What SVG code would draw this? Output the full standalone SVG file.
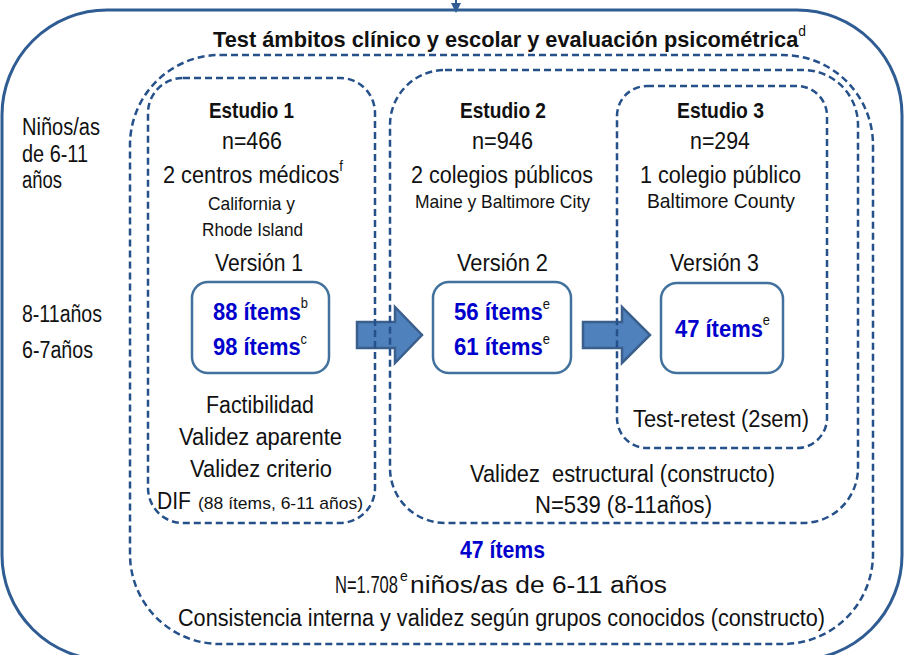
<svg xmlns="http://www.w3.org/2000/svg" width="906" height="655" viewBox="0 0 906 655">
<style>
text{font-family:'Liberation Sans Narrow','Liberation Sans',Arial,sans-serif;fill:#111;font-size:23px}
.b{font-weight:bold;font-size:22px}
.t{font-weight:bold;font-size:22px}
.s{font-size:19px}
.sup{font-size:14px;font-weight:normal;fill:#111}
.blue{fill:#0000CC;font-weight:bold;font-size:24px}
.dash{fill:none;stroke:#25508A;stroke-width:2.5;stroke-dasharray:7 4}
.item{fill:#fff;stroke:#41719C;stroke-width:2.5}
.arr{fill:#4F81BD;stroke:#3A5F8C;stroke-width:2.5;stroke-linejoin:miter}
</style>
<rect width="906" height="655" fill="#fff"/>
<g id="outer">
<rect x="2" y="10" width="900" height="650" rx="105" ry="105" fill="none" stroke="#2F5C92" stroke-width="3"/>
</g>
<g id="connectors">
<path d="M456,0 V10" stroke="#2F5C92" stroke-width="2" fill="none"/>
<path d="M451,3 L461,3 L456,13 Z" fill="#2F5C92"/>
<polygon class="arr" points="357,322 395,322 395,307 422,335 395,363 395,348 357,348"/>
<polygon class="arr" points="583,322 622,322 622,307 650,335 622,363 622,348 583,348"/>
</g>
<g id="all-studies">
<rect class="dash" x="130" y="55" width="743" height="589" rx="90" ry="90"/>
<text class="t" x="213" y="47" textLength="593" lengthAdjust="spacingAndGlyphs">Test ámbitos clínico y escolar y evaluación psicométrica<tspan class="sup" dy="-11">d</tspan></text>
<text class="blue" x="460" y="558" textLength="85" lengthAdjust="spacingAndGlyphs">47 ítems</text>
<text x="335" y="593"><tspan textLength="63" lengthAdjust="spacingAndGlyphs">N=1.708</tspan><tspan class="sup" x="400" dy="-12">e</tspan><tspan x="410" dy="12" textLength="257" lengthAdjust="spacingAndGlyphs">niños/as de 6-11 años</tspan></text>
<text x="178" y="626" textLength="647" lengthAdjust="spacingAndGlyphs">Consistencia interna y validez según grupos conocidos (constructo)</text>
</g>
<g id="labels">
<text x="22" y="135" textLength="78" lengthAdjust="spacingAndGlyphs">Niños/as</text>
<text x="22" y="162" textLength="66" lengthAdjust="spacingAndGlyphs">de 6-11</text>
<text x="22" y="188" textLength="40" lengthAdjust="spacingAndGlyphs">años</text>
<text x="22" y="322" textLength="80" lengthAdjust="spacingAndGlyphs">8-11años</text>
<text x="22" y="358" textLength="71" lengthAdjust="spacingAndGlyphs">6-7años</text>
</g>
<g id="estudio1">
<rect class="dash" x="148" y="78" width="227" height="445" rx="35" ry="35"/>
<text class="b" x="209" y="118" textLength="85" lengthAdjust="spacingAndGlyphs">Estudio 1</text>
<text x="222" y="149" textLength="60" lengthAdjust="spacingAndGlyphs">n=466</text>
<text x="163" y="183" textLength="180" lengthAdjust="spacingAndGlyphs">2 centros médicos<tspan class="sup" dy="-12">f</tspan></text>
<text class="s" x="208" y="210" textLength="87" lengthAdjust="spacingAndGlyphs">California y</text>
<text class="s" x="202" y="236" textLength="101" lengthAdjust="spacingAndGlyphs">Rhode Island</text>
<text x="215" y="271" textLength="88" lengthAdjust="spacingAndGlyphs">Versión 1</text>
<g id="version1">
<rect class="item" x="192" y="282" width="137" height="91" rx="16" ry="16"/>
<text class="blue" x="213" y="320" textLength="95" lengthAdjust="spacingAndGlyphs">88 ítems<tspan class="sup" dy="-12">b</tspan></text>
<text class="blue" x="213" y="355" textLength="94" lengthAdjust="spacingAndGlyphs">98 ítems<tspan class="sup" dy="-11">c</tspan></text>
</g>
<text x="206" y="413" textLength="108" lengthAdjust="spacingAndGlyphs">Factibilidad</text>
<text x="179" y="445" textLength="163" lengthAdjust="spacingAndGlyphs">Validez aparente</text>
<text x="190" y="477" textLength="142" lengthAdjust="spacingAndGlyphs">Validez criterio</text>
<text x="157" y="509"><tspan textLength="34" lengthAdjust="spacingAndGlyphs">DIF</tspan><tspan x="198" style="font-size:17px" textLength="165" lengthAdjust="spacingAndGlyphs">(88 ítems, 6-11 años)</tspan></text>
</g>
<g id="estudios23">
<rect class="dash" x="390" y="70" width="468" height="453" rx="55" ry="55"/>
<text x="470" y="482" textLength="305" lengthAdjust="spacingAndGlyphs">Validez&#160; estructural (constructo)</text>
<text x="535" y="513" textLength="177" lengthAdjust="spacingAndGlyphs">N=539 (8-11años)</text>
</g>
<g id="estudio2">
<text class="b" x="460" y="118" textLength="86" lengthAdjust="spacingAndGlyphs">Estudio 2</text>
<text x="472" y="149" textLength="61" lengthAdjust="spacingAndGlyphs">n=946</text>
<text x="411" y="183" textLength="182" lengthAdjust="spacingAndGlyphs">2 colegios públicos</text>
<text class="s" x="415" y="208" textLength="175" lengthAdjust="spacingAndGlyphs">Maine y Baltimore City</text>
<text x="457" y="271" textLength="91" lengthAdjust="spacingAndGlyphs">Versión 2</text>
<g id="version2">
<rect class="item" x="433" y="282" width="138" height="91" rx="16" ry="16"/>
<text class="blue" x="454" y="320" textLength="96" lengthAdjust="spacingAndGlyphs">56 ítems<tspan class="sup" dy="-11">e</tspan></text>
<text class="blue" x="454" y="355" textLength="96" lengthAdjust="spacingAndGlyphs">61 ítems<tspan class="sup" dy="-11">e</tspan></text>
</g>
</g>
<g id="estudio3">
<rect class="dash" x="617" y="86" width="210" height="362" rx="30" ry="30"/>
<text class="b" x="677" y="118" textLength="87" lengthAdjust="spacingAndGlyphs">Estudio 3</text>
<text x="690" y="149" textLength="60" lengthAdjust="spacingAndGlyphs">n=294</text>
<text x="640" y="183" textLength="161" lengthAdjust="spacingAndGlyphs">1 colegio público</text>
<text x="647" y="208" style="font-size:21px" textLength="148" lengthAdjust="spacingAndGlyphs">Baltimore County</text>
<text x="670" y="271" textLength="89" lengthAdjust="spacingAndGlyphs">Versión 3</text>
<g id="version3">
<rect class="item" x="661" y="283" width="122" height="90" rx="16" ry="16"/>
<text class="blue" x="675" y="337" textLength="95" lengthAdjust="spacingAndGlyphs">47 ítems<tspan class="sup" dy="-12">e</tspan></text>
</g>
<text x="633" y="427" textLength="176" lengthAdjust="spacingAndGlyphs">Test-retest (2sem)</text>
</g>
</svg>
